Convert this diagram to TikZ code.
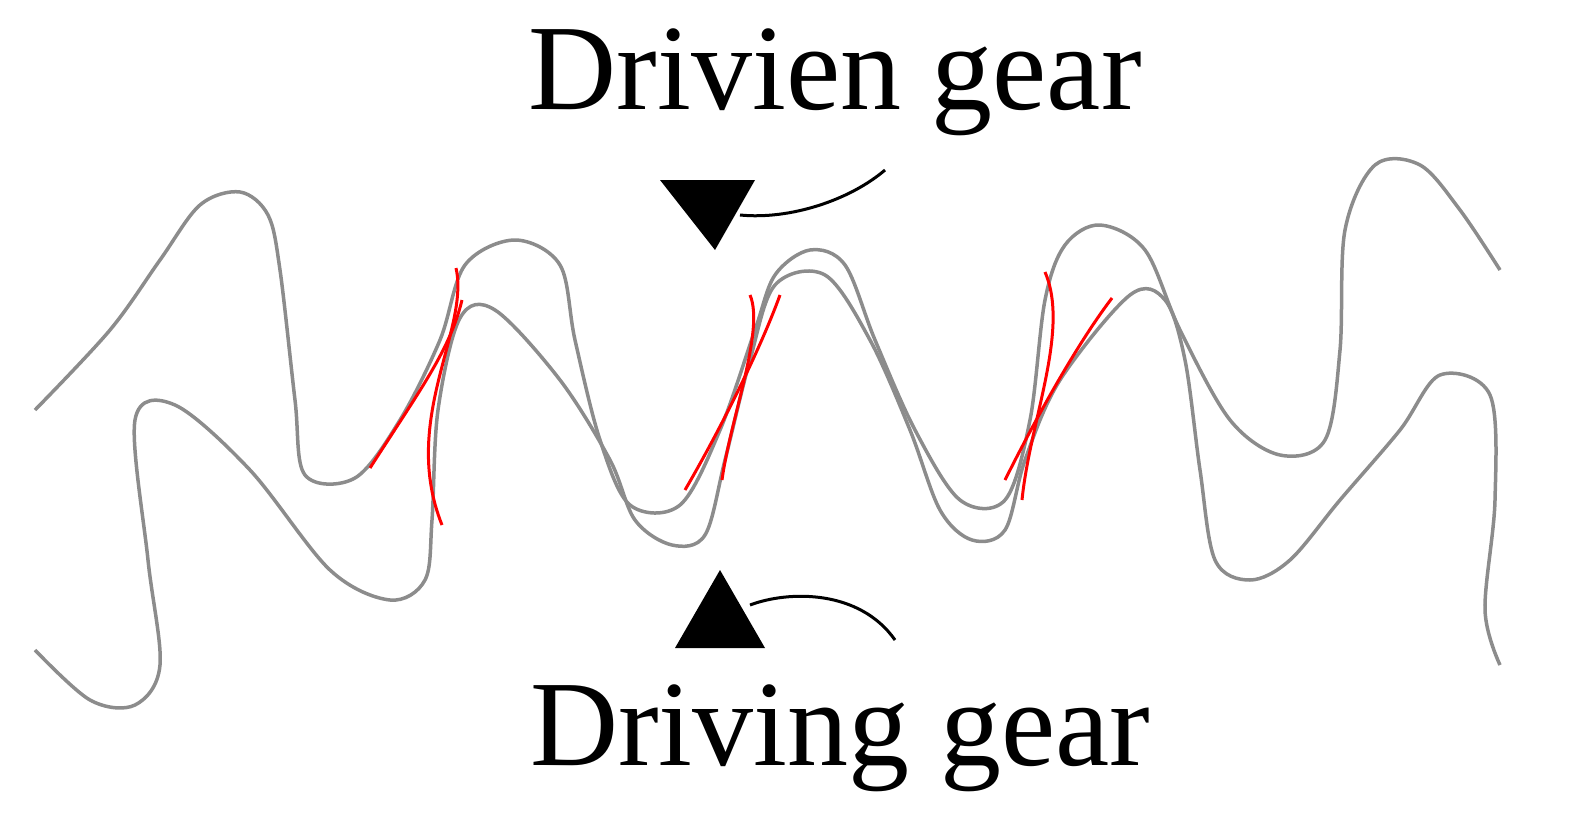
\documentclass[tikz,border=0pt]{standalone}
\usepackage{fontspec}
\setmainfont{Liberation Serif}
\begin{document}
\begin{tikzpicture}[x=1pt,y=-1pt,
  gear/.style={draw=black!45,line width=3.5pt,smooth,tension=0.55},
  contact/.style={draw=red,line width=3pt},
  lab/.style={font=\fontsize{122}{130}\selectfont},
  pointer/.style={draw=black,line width=3pt}]
\useasboundingbox (0,0) rectangle (1576,838);
\draw[gear] plot coordinates {(35,410) (110,330) (160,260) (200,205) (240,192) (268,215) (280,270) (295,400) (305,475) (355,478) (400,420) (440,340) (465,265) (515,240) (560,265) (575,340) (600,440) (630,505) (680,505) (720,430) (755,330) (775,275) (810,250) (845,265) (875,340) (915,430) (960,500) (1005,500) (1030,420) (1045,300) (1065,245) (1100,225) (1145,250) (1180,330) (1230,420) (1280,455) (1325,440) (1340,350) (1345,230) (1375,165) (1420,165) (1460,210) (1500,270)};
\draw[gear] plot coordinates {(35,650) (90,700) (135,705) (160,665) (148,560) (135,420) (175,405) (250,470) (330,570) (390,600) (425,580) (432,520) (438,410) (460,318) (495,310) (560,380) (610,460) (635,520) (672,545) (705,535) (725,460) (750,360) (775,285) (825,275) (870,340) (910,430) (940,510) (972,540) (1005,530) (1025,460) (1060,380) (1130,295) (1165,300) (1185,360) (1200,470) (1215,560) (1250,580) (1290,560) (1340,500) (1400,430) (1440,375) (1490,395) (1495,500) (1485,610) (1500,665)};
\draw[contact] (370,468) .. controls (420,390) and (450,350) .. (462,300);
\draw[contact] (456,268) .. controls (470,330) and (400,420) .. (442,525);
\draw[contact] (685,490) .. controls (720,430) and (760,350) .. (780,295);
\draw[contact] (750,295) .. controls (765,330) and (730,420) .. (722,480);
\draw[contact] (1005,480) .. controls (1040,410) and (1080,340) .. (1112,298);
\draw[contact] (1045,272) .. controls (1070,330) and (1030,420) .. (1022,500);
\node[lab] (driven) at (835,82) {Drivien gear};
\node[lab] (driving) at (840,738) {Driving gear};
\fill (660,180) -- (755,180) -- (715,250) -- cycle;
\fill (675,648) -- (765,648) -- (720,570) -- cycle;
\coordinate (a1) at (885,170);
\coordinate (a2) at (740,215);
\coordinate (b1) at (895,640);
\coordinate (b2) at (750,605);
\draw[pointer] (a1) .. controls (850,200) and (790,220) .. (a2);
\draw[pointer] (b1) .. controls (860,590) and (790,590) .. (b2);
\end{tikzpicture}
\end{document}
